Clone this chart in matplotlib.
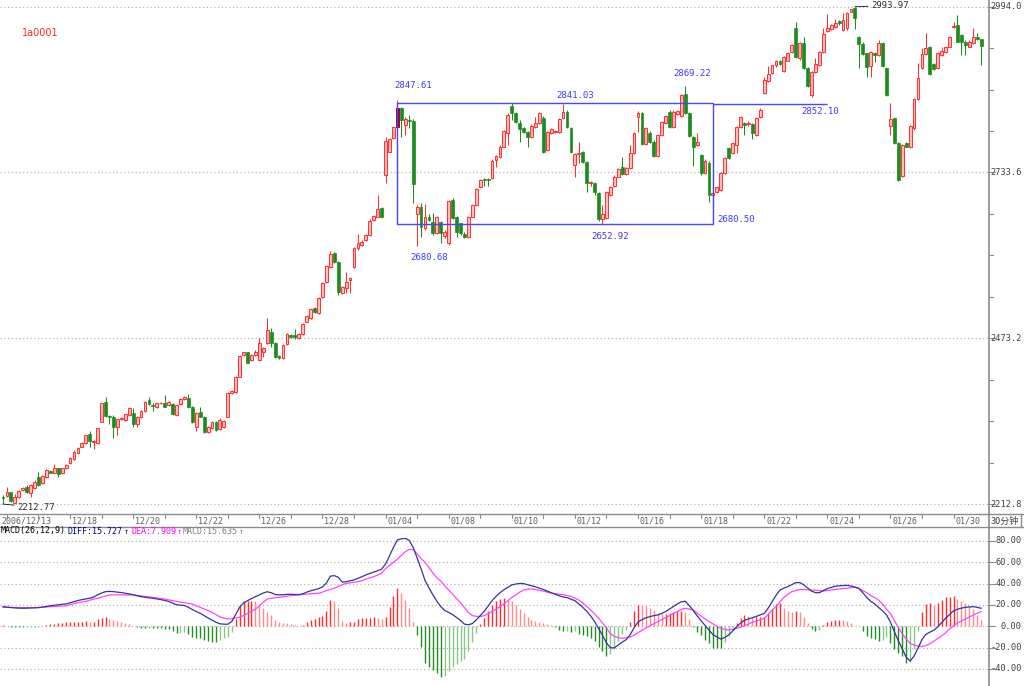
import numpy as np
import matplotlib
matplotlib.use('Agg')
import matplotlib.pyplot as plt
from matplotlib.patches import Rectangle
from matplotlib.lines import Line2D

# 30-minute bars, 2006/12/13 (last bar) .. 2007/01/30
OPEN = [
    2224.4, 2225.5, 2231.2, 2215.0, 2224.4, 2234.9, 2239.1, 2229.6, 2238.6, 2254.8,
    2245.4, 2255.8, 2265.3, 2262.1, 2268.9, 2261.0, 2268.9, 2276.8, 2283.0, 2292.5,
    2303.0, 2308.2, 2322.8, 2310.8, 2308.2, 2342.2, 2372.6, 2351.1, 2349.0, 2334.4,
    2345.9, 2344.8, 2352.7, 2356.3, 2338.5, 2349.0, 2359.5, 2376.2, 2368.4, 2365.8,
    2371.0, 2372.0, 2368.4, 2369.4, 2352.7, 2369.4, 2378.3, 2378.9, 2365.8, 2334.4,
    2356.8, 2349.0, 2326.0, 2331.7, 2342.2, 2330.2, 2334.4, 2350.0, 2386.8, 2389.3,
    2412.9, 2446.9, 2451.1, 2439.1, 2447.0, 2439.1, 2452.2, 2465.3, 2483.6, 2465.3,
    2445.4, 2441.8, 2464.3, 2478.4, 2478.4, 2473.2, 2480.0, 2499.4, 2504.6, 2521.3,
    2512.4, 2538.6, 2561.1, 2585.7, 2606.7, 2593.6, 2544.9, 2551.7, 2564.8, 2585.8,
    2614.5, 2619.8, 2627.6, 2635.5, 2659.0, 2663.2, 2677.4, 2729.7, 2766.3, 2787.3,
    2805.6, 2834.4, 2808.2, 2816.1, 2815.0, 2668.4, 2680.0, 2646.0, 2664.3, 2656.4,
    2638.1, 2656.4, 2633.9, 2622.4, 2690.4, 2664.3, 2653.8, 2637.0, 2632.9, 2664.3,
    2682.6, 2711.4, 2722.9, 2722.9, 2724.5, 2753.3, 2758.5, 2774.2, 2795.1, 2838.1,
    2827.6, 2811.9, 2803.0, 2797.8, 2789.9, 2805.6, 2810.8, 2818.7, 2769.0, 2795.1,
    2797.2, 2797.8, 2818.7, 2829.2, 2803.0, 2745.4, 2762.7, 2766.3, 2750.6, 2716.6,
    2716.6, 2702.0, 2660.1, 2661.7, 2698.3, 2712.4, 2727.1, 2741.7, 2731.3, 2740.2,
    2764.8, 2820.3, 2826.5, 2778.4, 2796.2, 2782.1, 2759.5, 2792.5, 2811.9, 2829.2,
    2805.6, 2825.5, 2822.9, 2856.9, 2826.5, 2789.9, 2776.8, 2761.1, 2732.3, 2749.1,
    2698.3, 2703.5, 2706.1, 2732.3, 2771.6, 2763.7, 2776.8, 2805.6, 2811.9, 2809.3,
    2809.8, 2792.5, 2820.2, 2859.0, 2877.8, 2890.4, 2901.9, 2908.7, 2893.5, 2909.2,
    2923.4, 2960.0, 2912.9, 2936.4, 2897.2, 2855.3, 2891.9, 2902.4, 2923.4, 2956.3,
    2958.4, 2962.6, 2972.0, 2957.4, 2960.0, 2986.2, 2991.4, 2947.0, 2936.0, 2920.7,
    2900.8, 2921.8, 2918.1, 2936.4, 2897.2, 2806.6, 2818.7, 2779.4, 2728.1, 2779.4,
    2773.1, 2803.0, 2848.5, 2897.2, 2919.7, 2930.2, 2904.0, 2897.2, 2918.1, 2923.4,
    2931.2, 2962.6, 2965.2, 2949.5, 2939.1, 2931.2, 2937.5, 2946.9, 2942.7,
]
HIGH = [
    2227.0, 2240.1, 2232.3, 2228.0, 2235.0, 2240.0, 2242.7, 2244.0, 2250.0, 2262.6,
    2258.0, 2268.0, 2266.0, 2275.2, 2270.0, 2270.0, 2276.0, 2286.0, 2297.0, 2303.0,
    2310.0, 2322.0, 2327.5, 2313.4, 2333.0, 2372.0, 2380.4, 2352.0, 2352.7, 2347.0,
    2349.0, 2355.0, 2366.0, 2363.2, 2351.0, 2361.0, 2374.0, 2380.4, 2371.0, 2372.0,
    2373.0, 2384.1, 2375.0, 2371.0, 2370.0, 2380.0, 2382.0, 2385.1, 2367.0, 2358.0,
    2365.8, 2350.5, 2336.0, 2343.5, 2344.0, 2348.5, 2345.0, 2389.0, 2392.0, 2414.0,
    2446.5, 2452.0, 2452.0, 2449.0, 2455.0, 2474.2, 2460.0, 2505.6, 2488.9, 2467.0,
    2447.0, 2464.0, 2482.0, 2480.0, 2487.3, 2482.0, 2497.0, 2510.0, 2520.0, 2523.0,
    2538.0, 2561.0, 2588.0, 2610.3, 2609.0, 2595.0, 2556.0, 2577.9, 2569.0, 2616.0,
    2637.0, 2627.0, 2637.0, 2660.0, 2667.0, 2698.3, 2679.0, 2789.9, 2787.0, 2807.0,
    2847.61, 2836.0, 2821.3, 2823.9, 2817.0, 2682.0, 2685.2, 2684.2, 2669.0, 2669.5,
    2666.0, 2658.0, 2643.0, 2691.0, 2693.0, 2666.0, 2655.0, 2640.0, 2665.0, 2684.0,
    2709.0, 2723.0, 2724.5, 2724.5, 2754.0, 2761.1, 2776.0, 2801.0, 2826.5, 2843.3,
    2829.0, 2816.1, 2805.0, 2799.0, 2809.0, 2821.3, 2829.0, 2822.0, 2799.0, 2803.0,
    2801.0, 2819.0, 2841.03, 2831.0, 2805.0, 2764.0, 2782.0, 2768.0, 2752.0, 2720.5,
    2719.2, 2703.5, 2682.6, 2705.0, 2713.0, 2729.0, 2740.0, 2758.5, 2742.0, 2776.8,
    2797.8, 2830.2, 2828.0, 2805.0, 2798.0, 2784.0, 2794.0, 2815.0, 2824.0, 2831.0,
    2831.0, 2832.0, 2857.0, 2869.22, 2828.0, 2791.0, 2796.2, 2763.0, 2754.3, 2751.0,
    2703.5, 2713.0, 2734.0, 2758.0, 2774.2, 2781.0, 2807.0, 2822.3, 2813.0, 2814.0,
    2811.0, 2820.0, 2834.4, 2884.1, 2900.8, 2903.0, 2910.0, 2910.0, 2916.0, 2923.0,
    2935.0, 2970.5, 2938.0, 2945.9, 2899.0, 2893.0, 2912.9, 2925.0, 2960.0, 2982.5,
    2967.0, 2974.1, 2973.0, 2984.6, 2986.0, 2991.0, 2993.97, 2948.5, 2938.0, 2922.0,
    2925.0, 2923.0, 2941.7, 2938.0, 2899.0, 2842.2, 2820.0, 2781.0, 2778.0, 2781.0,
    2808.0, 2850.0, 2906.1, 2928.6, 2953.2, 2932.0, 2906.0, 2923.0, 2931.2, 2933.0,
    2948.0, 2970.5, 2980.9, 2951.0, 2941.0, 2941.0, 2960.0, 2953.2, 2944.0,
]
LOW = [
    2212.77, 2224.4, 2216.6, 2214.0, 2222.0, 2233.0, 2229.6, 2223.4, 2237.0, 2241.0,
    2244.0, 2254.0, 2261.0, 2261.0, 2255.8, 2260.0, 2268.0, 2275.0, 2282.0, 2291.0,
    2302.0, 2307.0, 2303.0, 2300.0, 2307.0, 2341.0, 2350.0, 2338.5, 2316.0, 2321.3,
    2345.0, 2344.0, 2351.0, 2333.3, 2333.3, 2348.0, 2358.0, 2368.4, 2359.0, 2363.0,
    2370.0, 2364.7, 2367.0, 2353.0, 2351.0, 2368.0, 2377.0, 2364.0, 2339.6, 2328.1,
    2349.0, 2323.9, 2325.0, 2330.0, 2327.5, 2329.0, 2333.0, 2349.0, 2385.0, 2388.0,
    2412.0, 2446.0, 2434.0, 2437.0, 2445.0, 2438.0, 2444.4, 2464.0, 2460.1, 2442.0,
    2441.0, 2440.0, 2463.0, 2473.0, 2471.6, 2472.0, 2479.0, 2498.0, 2503.0, 2513.0,
    2511.0, 2537.0, 2560.0, 2584.0, 2592.0, 2541.2, 2543.0, 2543.8, 2543.8, 2584.0,
    2612.0, 2618.0, 2626.0, 2634.0, 2658.0, 2663.0, 2663.0, 2716.6, 2765.0, 2786.0,
    2804.0, 2789.9, 2792.5, 2803.0, 2685.2, 2618.2, 2632.9, 2644.0, 2657.0, 2636.0,
    2637.0, 2622.4, 2631.0, 2620.0, 2660.0, 2632.9, 2636.0, 2630.0, 2631.0, 2663.0,
    2681.0, 2710.0, 2712.0, 2712.0, 2723.0, 2742.8, 2757.0, 2773.0, 2776.8, 2816.1,
    2812.0, 2782.1, 2795.0, 2774.2, 2788.0, 2803.0, 2809.0, 2764.0, 2767.0, 2794.0,
    2796.0, 2796.0, 2817.0, 2804.0, 2764.0, 2727.1, 2748.0, 2749.0, 2703.5, 2712.4,
    2698.3, 2658.0, 2652.92, 2660.0, 2697.0, 2711.0, 2726.0, 2729.0, 2730.0, 2739.0,
    2763.0, 2797.0, 2776.0, 2777.0, 2780.0, 2758.0, 2758.0, 2791.0, 2810.0, 2804.0,
    2804.0, 2824.0, 2821.0, 2826.0, 2789.0, 2743.8, 2775.0, 2730.0, 2731.0, 2687.8,
    2680.5, 2702.0, 2705.0, 2731.0, 2754.0, 2762.0, 2763.7, 2804.0, 2792.5, 2806.0,
    2785.7, 2791.0, 2819.0, 2857.0, 2876.0, 2889.0, 2900.0, 2902.0, 2892.0, 2908.0,
    2922.0, 2913.0, 2911.0, 2896.0, 2868.0, 2851.6, 2890.0, 2901.0, 2922.0, 2955.0,
    2957.0, 2961.0, 2966.0, 2956.0, 2958.0, 2985.0, 2958.4, 2897.0, 2918.0, 2884.1,
    2884.1, 2907.7, 2917.0, 2899.0, 2854.0, 2792.5, 2778.0, 2720.0, 2726.0, 2773.0,
    2772.0, 2801.0, 2847.0, 2896.0, 2918.0, 2887.0, 2894.0, 2896.0, 2917.0, 2922.0,
    2930.0, 2960.0, 2938.0, 2918.1, 2918.1, 2930.0, 2936.0, 2941.0, 2902.4,
]
CLOSE = [
    2221.8, 2231.7, 2218.1, 2224.4, 2233.8, 2237.5, 2231.7, 2242.7, 2248.0, 2242.7,
    2256.9, 2266.3, 2262.1, 2268.9, 2260.0, 2268.9, 2274.2, 2284.6, 2295.1, 2301.4,
    2308.2, 2320.7, 2312.4, 2312.4, 2331.7, 2371.0, 2351.1, 2349.0, 2334.4, 2345.9,
    2347.4, 2353.7, 2364.2, 2338.5, 2350.0, 2359.5, 2372.6, 2370.0, 2367.4, 2371.0,
    2372.0, 2365.8, 2373.6, 2354.2, 2368.4, 2378.3, 2380.4, 2365.8, 2342.2, 2356.3,
    2350.0, 2326.5, 2334.4, 2342.2, 2329.1, 2344.8, 2343.8, 2387.8, 2390.9, 2412.9,
    2445.3, 2451.1, 2434.9, 2447.0, 2452.2, 2465.3, 2457.5, 2486.3, 2465.3, 2444.4,
    2442.3, 2462.7, 2480.0, 2474.7, 2475.8, 2480.0, 2495.2, 2508.3, 2518.7, 2515.1,
    2536.0, 2559.6, 2586.8, 2605.6, 2593.6, 2546.5, 2554.3, 2562.2, 2567.4, 2614.5,
    2622.4, 2625.0, 2635.5, 2658.0, 2665.3, 2675.8, 2664.3, 2783.1, 2785.7, 2805.6,
    2834.4, 2816.1, 2817.1, 2814.5, 2715.6, 2680.0, 2648.6, 2664.3, 2659.0, 2638.1,
    2664.3, 2638.1, 2640.7, 2689.4, 2661.7, 2640.7, 2638.1, 2632.9, 2663.2, 2682.6,
    2707.2, 2721.8, 2721.3, 2721.3, 2752.2, 2759.5, 2774.2, 2799.3, 2823.9, 2827.6,
    2813.5, 2801.4, 2796.7, 2789.9, 2807.2, 2810.8, 2826.5, 2766.3, 2797.8, 2801.4,
    2799.3, 2817.1, 2829.2, 2805.6, 2766.3, 2762.7, 2764.8, 2750.6, 2716.6, 2719.2,
    2703.5, 2660.1, 2667.9, 2703.5, 2711.4, 2727.1, 2738.6, 2730.7, 2740.2, 2764.8,
    2795.1, 2826.5, 2778.4, 2803.0, 2782.1, 2759.5, 2792.5, 2813.5, 2822.4, 2805.6,
    2829.2, 2830.7, 2855.3, 2827.6, 2791.0, 2774.2, 2782.1, 2732.3, 2751.7, 2698.3,
    2700.9, 2711.4, 2732.3, 2755.9, 2755.9, 2779.4, 2805.6, 2820.2, 2808.2, 2811.9,
    2795.1, 2818.7, 2831.7, 2878.9, 2888.3, 2901.9, 2908.7, 2904.0, 2914.5, 2921.8,
    2933.8, 2914.5, 2936.4, 2897.2, 2869.4, 2891.9, 2904.0, 2923.4, 2950.6, 2960.0,
    2965.2, 2968.9, 2967.9, 2973.1, 2984.6, 2989.8, 2975.7, 2936.0, 2919.7, 2899.8,
    2923.4, 2918.1, 2936.4, 2900.8, 2855.3, 2817.1, 2779.4, 2721.8, 2776.8, 2774.2,
    2806.6, 2848.5, 2881.5, 2919.7, 2928.6, 2888.3, 2895.6, 2921.8, 2924.9, 2931.2,
    2945.9, 2963.7, 2939.1, 2939.1, 2933.8, 2939.1, 2945.9, 2942.7, 2932.3,
]

DIFF = [
    18.4, 18.0, 17.6, 17.2, 17.0, 16.9, 17.0, 17.1, 17.3, 17.5,
    18.0, 18.7, 19.3, 19.8, 20.2, 20.6, 21.0, 22.0, 23.1, 24.2,
    25.0, 25.7, 26.3, 27.5, 29.5, 31.2, 32.5, 32.7, 32.5, 32.1,
    31.6, 31.0, 30.4, 29.6, 28.6, 27.8, 27.3, 26.9, 26.4, 25.7,
    25.0, 24.3, 23.3, 21.8, 20.2, 19.8, 19.5, 17.8, 15.8, 13.8,
    12.2, 10.0, 7.8, 5.8, 3.8, 2.3, 2.0, 1.9, 4.5, 11.0,
    18.0, 21.8, 24.0, 26.0, 27.8, 29.5, 31.2, 32.4, 31.5, 29.8,
    29.5, 29.6, 29.9, 30.0, 29.8, 29.7, 30.5, 32.0, 33.3, 34.2,
    35.3, 37.0, 40.5, 47.0, 47.5, 46.0, 41.5, 41.8, 42.6, 43.5,
    45.0, 46.5, 48.2, 49.5, 50.8, 52.0, 53.5, 58.5, 66.0, 74.0,
    81.0, 82.0, 82.5, 80.5, 74.0, 64.0, 54.0, 43.0, 36.0, 29.5,
    23.5, 18.5, 14.8, 13.0, 11.0, 8.3, 5.5, 2.0, 1.5, 2.5,
    6.0, 10.0, 14.0, 19.0, 24.0, 28.0, 31.5, 34.2, 36.5, 38.8,
    39.6, 40.2, 40.0, 39.0, 38.0, 37.0, 35.8, 34.5, 33.0, 31.6,
    30.1, 28.6, 27.6, 26.9, 25.5, 24.0, 21.0, 17.8, 14.0, 9.8,
    4.5, -1.9, -8.5, -15.5, -20.2, -20.2, -17.5, -14.8, -12.5, -8.0,
    -1.5, 4.0, 6.2, 8.0, 9.0, 10.0, 10.6, 12.0, 13.8, 16.2,
    18.6, 21.0, 23.0, 23.5, 19.5, 14.8, 9.8, 5.2, 0.8, -3.5,
    -7.8, -10.0, -12.0, -10.5, -8.1, -4.5, -0.5, 3.0, 5.6, 6.8,
    8.0, 9.3, 10.7, 12.0, 17.0, 23.1, 29.0, 34.0, 35.8, 37.2,
    39.0, 40.9, 41.0, 39.0, 36.0, 33.0, 31.5, 31.5, 33.5, 35.3,
    36.5, 37.5, 38.0, 38.2, 38.4, 37.8, 36.8, 35.6, 31.5, 27.0,
    23.5, 21.0, 17.8, 14.5, 10.8, 4.0, -5.0, -13.5, -21.0, -29.0,
    -32.5, -28.0, -20.5, -12.5, -7.5, -5.5, -3.8, -0.5, 3.5, 7.5,
    11.0, 14.5, 16.0, 17.0, 17.8, 18.1, 18.4, 17.8, 16.9,
]
DEA = [
    17.8, 17.8, 17.7, 17.6, 17.5, 17.4, 17.4, 17.4, 17.5, 17.6,
    17.8, 18.0, 18.3, 18.6, 18.8, 19.0, 19.2, 20.2, 21.2, 22.2,
    22.8, 23.4, 24.5, 25.5, 26.3, 27.3, 28.3, 29.4, 29.5, 29.5,
    29.4, 29.4, 29.4, 29.4, 29.0, 28.5, 28.0, 27.5, 27.0, 26.5,
    26.0, 25.6, 24.8, 24.0, 23.4, 22.9, 22.2, 21.6, 20.9, 19.2,
    17.8, 16.2, 14.8, 13.0, 11.0, 8.8, 7.6, 6.9, 7.0, 7.8,
    8.5, 10.0, 12.0, 14.0, 16.0, 19.0, 22.5, 25.6, 26.3, 26.8,
    27.4, 27.9, 28.3, 28.7, 29.1, 29.4, 29.8, 30.2, 30.5, 30.8,
    31.0, 32.0, 33.5, 34.5, 35.7, 37.3, 39.1, 40.2, 40.8, 41.3,
    41.8, 42.8, 44.2, 45.4, 46.6, 48.0, 50.0, 54.0, 57.0, 60.0,
    63.0, 66.5, 70.0, 72.0, 72.0, 68.0, 63.5, 60.0, 55.0, 50.0,
    45.5, 42.5, 38.0, 34.0, 30.0, 26.0, 22.0, 17.5, 13.0, 10.0,
    9.3, 9.1, 10.0, 11.7, 13.8, 16.0, 18.5, 21.0, 24.0, 27.0,
    29.5, 32.0, 34.0, 34.7, 35.0, 34.5, 33.8, 33.0, 32.0, 31.0,
    30.6, 30.2, 29.7, 28.9, 28.0, 26.3, 24.6, 22.0, 18.7, 15.3,
    11.5, 7.7, 3.2, -1.5, -7.0, -9.5, -10.6, -11.3, -10.8, -10.0,
    -8.5, -6.0, -3.7, -1.6, 0.3, 2.4, 4.3, 6.2, 8.0, 10.0,
    12.0, 14.0, 15.8, 16.9, 16.2, 15.3, 12.5, 9.5, 7.0, 4.5,
    2.2, 0.0, -1.8, -3.0, -3.4, -2.8, -2.0, -1.0, 0.5, 2.0,
    3.7, 5.0, 6.2, 7.5, 11.0, 15.0, 18.5, 23.0, 27.0, 30.0,
    32.5, 33.5, 34.5, 34.5, 34.3, 34.1, 33.8, 33.4, 33.1, 33.5,
    34.0, 34.5, 34.9, 35.4, 35.8, 36.3, 36.6, 35.5, 33.5, 31.5,
    28.8, 26.8, 24.7, 21.0, 16.0, 12.0, 5.5, -1.0, -7.0, -12.0,
    -15.9, -17.5, -18.5, -19.1, -18.0, -16.5, -14.0, -11.5, -9.0, -6.0,
    -2.5, 0.5, 3.0, 5.0, 6.8, 8.6, 10.5, 12.3, 13.8,
]

FIRST_DATE = '2006/12/13'
DAYS = ['12/14', '12/15', '12/18', '12/19', '12/20', '12/21', '12/22', '12/25',
        '12/26', '12/27', '12/28', '12/29', '01/04', '01/05', '01/08', '01/09',
        '01/10', '01/11', '01/12', '01/15', '01/16', '01/17', '01/18', '01/19',
        '01/22', '01/23', '01/24', '01/25', '01/26', '01/29', '01/30']
BARS_PER_DAY = 8

PRICE_TICKS = [2994.0, 2733.6, 2473.2, 2212.8]
MACD_TICKS = [80, 60, 40, 20, 0, -20, -40]

BOX_START, BOX_END = 100, 180
BOX_TOP, BOX_LOW = 2843.0, 2652.92
EXT_END, EXT_LEVEL = 209, 2841.0

# blue hand-drawn labels: (text, x px, y px)
NOTES = [('2847.61', 413, 86), ('2841.03', 575, 95), ('2869.22', 692, 73),
         ('2852.10', 820, 112), ('2680.50', 736, 219), ('2652.92', 610, 236),
         ('2680.68', 429, 257)]

W, H = 1024, 686
def fx(x): return x / W
def fy(y): return 1 - y / H

MONO = 'DejaVu Sans Mono'
RED, GREEN = '#ff3030', '#1c8c1c'
GRID = '#b4b4b4'
FRAME = '#8c8c8c'

o, h, l, c = (np.array(a) for a in (OPEN, HIGH, LOW, CLOSE))
n = len(c)
idx = np.arange(n)
XLIM = (-0.76, 250.0)

fig = plt.figure(figsize=(W / 100, H / 100), dpi=100)
fig.patch.set_facecolor('white')

# ---- price panel
ax = fig.add_axes([0, fy(513), fx(989), 513 / H])
ax.set_xlim(*XLIM)
ax.set_ylim(2198.8, 3004.5)
ax.axis('off')

for lvl in PRICE_TICKS:
    ax.axhline(lvl, color=GRID, lw=0.9, ls=(0, (1, 2)), zorder=1)

up = c >= o
lo = np.minimum(o, c)
hgt = np.maximum(np.abs(c - o), 1.2)
ax.vlines(idx[up], l[up], h[up], color=RED, lw=0.75, zorder=2)
ax.vlines(idx[~up], l[~up], h[~up], color=GREEN, lw=0.75, zorder=2)
ax.bar(idx[up], hgt[up], bottom=lo[up], width=0.72, facecolor='#ffbcbc',
       edgecolor=RED, lw=0.7, zorder=3)
ax.bar(idx[~up], hgt[~up], bottom=lo[~up], width=0.72, facecolor=GREEN,
       edgecolor=GREEN, lw=0.5, zorder=3)
ax.bar([BOX_START], [hgt[BOX_START]], bottom=[lo[BOX_START]], width=0.72,
       facecolor='#8c0030', edgecolor='#8c0030', lw=0.5, zorder=4)

ax.add_patch(Rectangle((BOX_START, BOX_LOW), BOX_END - BOX_START, BOX_TOP - BOX_LOW,
                       fill=False, ec='#4646ff', lw=1.0, zorder=5))
ax.hlines(EXT_LEVEL, BOX_END, EXT_END, color='#4646ff', lw=1.0, zorder=5)

imax = int(np.argmax(h))
imin = int(np.argmin(l))
ax.annotate(f'{h[imax]:.2f}', xy=(imax, h[imax]), xytext=(16, 1),
            textcoords='offset pixels', ha='left', va='center', fontsize=6.5,
            family=MONO, color='#303030',
            arrowprops=dict(arrowstyle='-', color='#303030', lw=0.7,
                            shrinkA=0, shrinkB=0))
ax.annotate(f'{l[imin]:.2f}', xy=(imin, l[imin]), xytext=(14, -3),
            textcoords='offset pixels', ha='left', va='center', fontsize=6.5,
            family=MONO, color='#303030',
            arrowprops=dict(arrowstyle='-', color='#303030', lw=0.7,
                            shrinkA=0, shrinkB=0))

for txt, x, y in NOTES:
    fig.text(fx(x), fy(y), txt, ha='center', va='center', fontsize=6.5,
             family=MONO, color='#3a3aff')

fig.text(fx(22), fy(33), '1a0001', ha='left', va='center', fontsize=7,
         color='#ff2828')

# right price scale
yax = ax.get_yaxis_transform()
for k in range(13):
    lvl = PRICE_TICKS[0] - k * (PRICE_TICKS[0] - PRICE_TICKS[1]) / 4
    ax.plot([1.0, 1.004 if k % 4 else 1.006], [lvl, lvl], transform=yax,
            color=FRAME, lw=0.8, clip_on=False)
for lvl in PRICE_TICKS:
    ax.text(1022 / 989, lvl, f'{lvl:.1f}', transform=yax, ha='right',
            va='center', fontsize=6.2, family=MONO, color='#404040',
            clip_on=False)

# ---- date strip
ax3 = fig.add_axes([0, fy(527), fx(989), 13 / H])
ax3.set_xlim(*XLIM)
ax3.set_ylim(0, 1)
ax3.axis('off')
ax3.text(-0.5, 0.45, FIRST_DATE, ha='left', va='center', fontsize=6,
         family=MONO, color='#606060')
for j, day in enumerate(DAYS):
    start = 1 + j * BARS_PER_DAY
    ax3.plot([start, start], [1, 0.72], color=FRAME, lw=0.8)
    if j % 2 == 0 and j > 0:
        ax3.text(start + 0.5, 0.45, day, ha='left', va='center', fontsize=6,
                 family=MONO, color='#606060')
fig.text(fx(991), fy(521), '30分钟', ha='left', va='center', fontsize=6.5,
         family=['Noto Sans CJK SC', 'DejaVu Sans'], color='#404040')

# frame lines
for y in (514, 527):
    fig.add_artist(Line2D([0, 1], [fy(y), fy(y)], color=FRAME, lw=1.0))
fig.add_artist(Line2D([fx(989), fx(989)], [0, 1], color=FRAME, lw=1.2))
fig.add_artist(Line2D([fx(1021), fx(1021)], [fy(514), fy(527)], color=FRAME, lw=1.0))

# ---- MACD panel
diff = np.array(DIFF)
dea = np.array(DEA)
hist = 2 * (diff - dea)

ax2 = fig.add_axes([0, 0, fx(989), 148 / H])
ax2.set_xlim(*XLIM)
ax2.set_ylim(-56.0, 82.8)
ax2.axis('off')
for v in MACD_TICKS:
    ax2.axhline(v, color=GRID, lw=0.9, ls=(0, (1, 2)), zorder=1)

cols = []
for i, v in enumerate(hist):
    prev = hist[i - 1] if i else v
    if v >= 0:
        cols.append('#ff2a2a' if v >= prev else '#ff8c8c')
    else:
        cols.append('#1f8f1f' if v <= prev else '#86c886')
ax2.vlines(idx, 0, hist, colors=cols, lw=1.0, zorder=2)
ax2.plot(idx, dea, color='#ff44ff', lw=0.9, zorder=3)
ax2.plot(idx, diff, color='#34349a', lw=0.9, zorder=4)

yax2 = ax2.get_yaxis_transform()
for v in MACD_TICKS:
    ax2.plot([1.0, 1.006], [v, v], transform=yax2, color=FRAME, lw=0.8,
             clip_on=False)
    ax2.text(1022 / 989, v, f'{v:.2f}', transform=yax2, ha='right',
             va='center', fontsize=6.2, family=MONO, color='#404040',
             clip_on=False)

# MACD legend line
legend = [('MACD(26,12,9)', 1, '#000000'), ('DIFF:15.727', 68, '#000090'),
          ('↑', 124, '#000090'), ('DEA:7.909', 132, '#ff00ff'),
          ('↑', 177, '#ff00ff'), ('MACD:15.635', 183, '#808080'),
          ('↑', 239, '#808080')]
for txt, x, col in legend:
    fig.text(fx(x), fy(531), txt, ha='left', va='center', fontsize=6,
             family=MONO, color=col)

fig.savefig('out.png', dpi=100, facecolor='white')
